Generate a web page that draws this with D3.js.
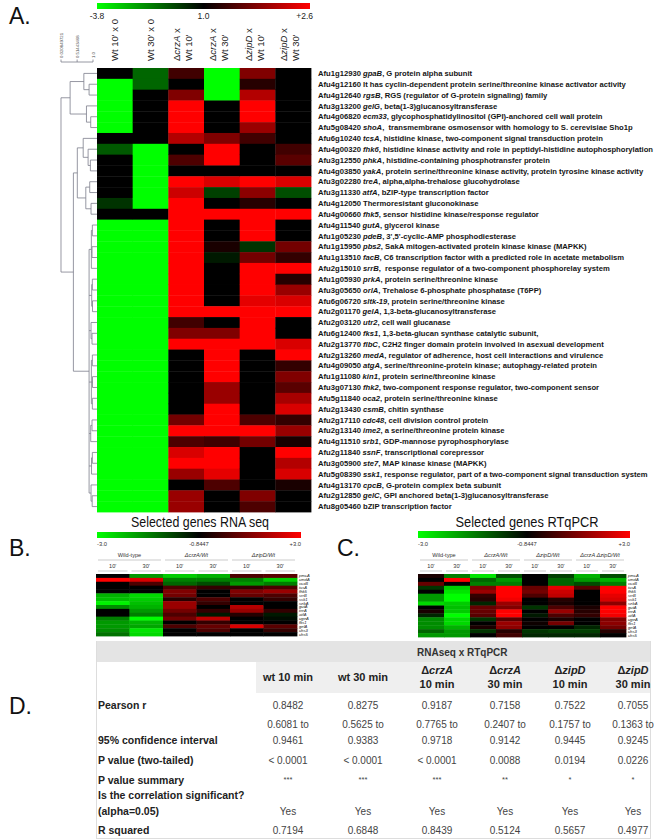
<!DOCTYPE html>
<html>
<head>
<meta charset="utf-8">
<script src="https://cdn.jsdelivr.net/npm/d3@7"></script>
<style>
  body { margin: 0; background: #fff; }
  svg { display: block; font-family: "Liberation Sans", Arial, Helvetica, sans-serif; }
</style>
</head>
<body>
<div id="chart"></div>
<script>
// ---------- panel A data ----------
var geneIds = ["Afu1g12930","Afu4g12160","Afu4g12640","Afu3g13200","Afu4g06820","Afu5g08420","Afu6g10240","Afu4g00320",
  "Afu3g12550","Afu4g03850","Afu3g02280","Afu3g11330","Afu4g12050","Afu4g00660","Afu4g11540","Afu1g05230","Afu1g15950",
  "Afu1g13510","Afu2g15010","Afu1g05930","Afu3g05650","Afu6g06720","Afu2g01170","Afu2g03120","Afu6g12400","Afu2g13770",
  "Afu2g13260","Afu4g09050","Afu1g11080","Afu3g07130","Afu5g11840","Afu2g13430","Afu2g17110","Afu2g13140","Afu4g11510",
  "Afu2g11840","Afu3g05900","Afu5g08390","Afu4g13170","Afu2g12850","Afu8g05460"];
var geneSymbols = ["gpaB","","rgsB","gelG","ecm33","shoA","tcsA","fhk6","phkA","yakA","treA","atfA","","fhk5","gutA","pdeB",
  "pbs2","facB","srrB","prkA","orlA","sltk-19","gelA","utr2","fks1","flbC","medA","atgA","kin1","fhk2","oca2","csmB","cdc48",
  "ime2","srb1","ssnF","ste7","ssk1","cpcB","gelC",""];
var geneDescs = [", G protein alpha subunit",
  "It has cyclin-dependent protein serine/threonine kinase activator activity",
  ", RGS (regulator of G-protein signaling) family",
  ", beta(1-3)glucanosyltransferase",
  ", glycophosphatidylinositol (GPI)-anchored cell wall protein",
  ",  transmembrane osmosensor with homology to S. cerevisiae Sho1p",
  ", histidine kinase, two-component signal transduction protein",
  ", histidine kinase activity and role in peptidyl-histidine autophosphorylation",
  ", histidine-containing phosphotransfer protein",
  ", protein serine/threonine kinase activity, protein tyrosine kinase activity",
  ", alpha,alpha-trehalose glucohydrolase",
  ", bZIP-type transcription factor",
  "Thermoresistant gluconokinase",
  ", sensor histidine kinase/response regulator",
  ", glycerol kinase",
  ", 3',5'-cyclic-AMP phosphodiesterase",
  ", SakA mitogen-activated protein kinase kinase (MAPKK)",
  ", C6 transcription factor with a predicted role in acetate metabolism",
  ",  response regulator of a two-component phosphorelay system",
  ", protein serine/threonine kinase",
  ", Trehalose 6-phosphate phosphatase (T6PP)",
  ", protein serine/threonine kinase",
  ", 1,3-beta-glucanosyltransferase",
  ", cell wall glucanase",
  ", 1,3-beta-glucan synthase catalytic subunit,",
  ", C2H2 finger domain protein involved in asexual development",
  ", regulator of adherence, host cell interactions and virulence",
  ", serine/threonine-protein kinase; autophagy-related protein",
  ", protein serine/threonine kinase",
  ", two-component response regulator, two-component sensor",
  ", protein serine/threonine kinase",
  ", chitin synthase",
  ", cell division control protein",
  ", a serine/threonine protein kinase",
  ", GDP-mannose pyrophosphorylase",
  ", transcriptional corepressor",
  ", MAP kinase kinase (MAPKK)",
  ", response regulator, part of a two-component signal transduction system",
  ", G-protein complex beta subunit",
  ", GPI anchored beta(1-3)glucanosyltransferase",
  "bZIP transcription factor"];

var wt10 = [1.0,-3.8,-3.8,-3.8,-3.8,-3.8,1.0,-0.68,1.0,1.0,1.0,1.0,0.04,1.0,
  -3.8,-3.8,-3.8,-3.8,-3.8,-3.8,-3.8,-3.8,-3.8,-3.8,-3.8,-3.8,-3.8,-3.8,-3.8,-3.8,-3.8,-3.8,-3.8,-3.8,-3.8,-3.8,-3.8,-3.8,-3.8,-3.8,-3.8];
var wt30 = [-0.92,-0.92,1.0,1.0,1.0,1.0,1.0,-3.8,-3.8,-3.8,-3.8,-3.8,-3.8,1.0,
  -3.8,-3.8,-3.8,-3.8,-3.8,-3.8,-3.8,-3.8,-3.8,-3.8,-3.8,-3.8,-3.8,-3.8,-3.8,-3.8,-3.8,-3.8,-3.8,-3.8,-3.8,-3.8,-3.8,-3.8,-3.8,-3.8,-3.8];
var crzA10 = [1.4,1.0,1.8,2.6,2.6,2.6,2.12,1.0,1.48,1.0,2.6,2.28,2.6,2.6,2.6,2.6,2.6,2.6,2.6,2.6,2.6,2.6,2.6,1.4,1.8,2.6,
  1.0,1.0,1.0,1.0,1.0,1.0,1.72,2.6,1.48,2.36,2.6,1.96,1.0,1.96,1.96];
var crzA30 = [-3.8,-3.8,-3.8,1.0,1.0,1.0,1.8,2.6,2.6,1.0,2.36,-0.2,1.0,2.6,1.0,1.0,1.16,0.52,1.0,1.0,1.0,1.0,2.6,1.0,1.8,2.6,
  2.6,2.6,2.6,1.96,1.96,2.6,2.6,2.6,1.4,2.6,2.6,2.44,1.48,1.0,1.0];
var zipD10 = [1.8,1.24,2.12,2.6,2.6,1.96,1.4,1.0,1.0,1.0,2.6,1.88,1.24,2.6,2.6,2.6,0.04,1.72,2.6,2.6,2.6,2.44,2.6,2.6,2.6,2.6,
  1.0,1.0,1.0,1.0,1.0,1.0,1.48,2.6,1.72,1.0,1.0,1.0,1.0,1.8,1.48];
var zipD30 = [1.0,1.0,1.0,1.0,1.0,1.0,1.0,1.4,1.56,1.0,2.36,-0.44,1.0,2.6,1.0,1.0,1.72,1.32,2.6,1.24,1.96,2.36,2.6,1.0,1.0,2.36,
  2.6,1.32,1.8,1.56,2.04,2.36,1.32,1.96,1.16,2.6,2.12,2.36,1.16,1.0,1.0];
var colHeadA = [["Wt 10' x 0"], ["Wt 30' x 0"], ["\u0394crzA x", "Wt 10'"], ["\u0394crzA x", "Wt 30'"], ["\u0394zipD x", "Wt 10'"], ["\u0394zipD x", "Wt 30'"]];
var scaleLabelsA = [-3.8, 1.0, 2.6];
var scaleTextA = ["-3.8", "1.0", "+2.6"];

// dendrogram (similarity of merge, leaves = row index)
var dendroTree = {h: 0.0208, c: [
  {h: 0.30, c: [{h: 0.72, c: [0, {h: 0.88, c: [1, 2]}]}, {h: 0.80, c: [3, {h: 0.93, c: [4, 5]}]}]},
  {h: 0.40, c: [
    {h: 0.52, c: [{h: 0.70, c: [6, {h: 0.85, c: [7, {h: 0.92, c: [8, 9]}]}]}, {h: 0.78, c: [{h: 0.90, c: [10, 11]}, {h: 0.94, c: [12, 13]}]}]},
    {h: 0.88, c: [
      {h: 0.95, c: [{h: 0.98, c: [14, 15]}, {h: 0.97, c: [16, 17]}, 18]},
      {h: 0.96, c: [{h: 0.98, c: [19, 20]}, {h: 0.985, c: [21, 22]}]},
      {h: 0.94, c: [23, {h: 0.97, c: [24, 25]}]},
      {h: 0.95, c: [{h: 0.98, c: [26, 27]}, {h: 0.985, c: [28, 29]}, {h: 0.98, c: [30, 31]}]},
      {h: 0.93, c: [{h: 0.97, c: [32, 33]}, 34]},
      {h: 0.955, c: [{h: 0.98, c: [35, 36]}, 37]},
      {h: 0.94, c: [38, {h: 0.975, c: [39, 40]}]}
    ]}
  ]}
]};
var dendroTicks = [0.020849721, 0.51443468, 1.0];
var dendroTickText = ["0.020849721", "0.51443468", "1.0"];

// ---------- panel B / C data ----------
var selGenes = ["pmcA","cmdA","vcxB","tcsA","fhk5","srrB","ssk1","sebA","gutA","treA","atfA","ugeA","fks1","gelA","chs3","chs5"];
var timeLabels = ["10'", "30'"];
var rnaGroups = ["Wild-type", "\u0394crzA/Wt", "\u0394zipD/Wt"];
var qpcrGroups = ["Wild-type", "\u0394crzA/Wt", "\u0394zipD/Wt", "\u0394crzA \u0394zipD/Wt"];
var scaleLabelsBC = [-3.0, -0.8447, 3.0];
var scaleTextBC = ["-3.0", "-0.8447", "+3.0"];

var rnaWt10 = [-0.84,3.0,-0.84,-0.84,-0.84,-2.35,-2.46,-2.89,-2.03,-0.84,-0.84,-1.92,-2.14,-2.14,-2.03,-1.81];
var rnaWt30 = [-2.14,2.42,0.31,-0.84,-0.84,-2.68,-2.57,-2.46,-2.35,-2.14,-1.92,-3.0,-2.35,-2.25,-2.78,-2.68];
var rnaCrz10 = [-2.57,-1.92,-1.71,0.31,1.08,0.89,-0.27,1.46,1.46,0.89,0.31,0.89,-0.84,0.31,-0.84,-0.84];
var rnaCrz30 = [-2.35,-1.92,-1.49,-0.08,-0.84,-0.84,0.31,-0.08,-0.84,-0.08,-1.06,2.04,-0.08,0.69,0.31,-0.84];
var rnaZip10 = [0.31,-1.92,-2.14,-0.08,1.08,0.69,-0.84,-0.84,1.85,1.46,-0.27,-0.84,-0.84,2.42,-0.84,-0.84];
var rnaZip30 = [0.50,-2.57,-1.92,0.31,1.46,0.31,-0.08,-0.84,-0.84,-0.08,-1.06,-0.95,-0.84,0.50,-0.08,-0.84];

var pcrWt10 = [-0.46,-0.84,0.69,-1.28,-0.84,-2.14,-2.14,-2.68,-0.84,-0.46,-1.17,-2.03,-2.03,-2.03,-1.71,-2.14];
var pcrWt30 = [-1.92,3.0,-0.84,-2.57,-2.78,-3.0,-3.0,-2.57,-2.46,-2.57,-3.0,-2.68,-2.68,-2.35,-2.14,-2.14];
var pcrCrz10 = [-2.78,-1.71,-1.92,1.08,1.46,-0.08,-0.27,-1.17,0.69,0.69,0.50,-1.28,-0.84,-0.46,-1.28,-0.84];
var pcrCrz30 = [-1.49,-2.14,-1.92,3.0,3.0,3.0,2.81,1.46,1.08,3.0,3.0,0.50,1.46,1.27,-0.27,0.12];
var pcrZip10 = [-0.84,-0.84,-0.84,0.69,0.89,0.31,-0.84,-0.84,-1.28,-0.84,-1.06,-0.84,-0.65,-0.84,-1.28,-1.17];
var pcrZip30 = [-1.38,-1.71,-1.71,2.62,2.23,2.04,-0.27,-0.46,0.31,1.46,0.31,-0.46,0.89,-0.84,-1.38,-1.17];
var pcrBoth10 = [-2.35,-2.14,-1.49,0.50,-0.84,-0.84,-0.84,-0.84,-0.46,-0.27,-0.08,-0.84,-0.84,-1.17,-1.38,-1.17];
var pcrBoth30 = [-1.49,-2.35,-1.92,3.0,3.0,2.62,2.42,1.27,3.0,3.0,2.81,1.08,1.27,0.89,-0.27,-0.84];

// ---------- panel D data ----------
var tableTitle = "RNAseq x RTqPCR";
var headGene = ["", "", "\u0394crzA", "\u0394crzA", "\u0394zipD", "\u0394zipD"];
var headTime = ["wt 10 min", "wt 30 min", "10 min", "30 min", "10 min", "30 min"];
var pearsonR = ["0.8482", "0.8275", "0.9187", "0.7158", "0.7522", "0.7055"];
var ciLow = ["0.6081 to", "0.5625 to", "0.7765 to", "0.2407 to", "0.1757 to", "0.1363 to"];
var ciHigh = ["0.9461", "0.9383", "0.9718", "0.9142", "0.9445", "0.9245"];
var pTwoTailed = ["< 0.0001", "< 0.0001", "< 0.0001", "0.0088", "0.0194", "0.0226"];
var pSummary = ["***", "***", "***", "**", "*", "*"];
var significant = ["Yes", "Yes", "Yes", "Yes", "Yes", "Yes"];
var rSquared = ["0.7194", "0.6848", "0.8439", "0.5124", "0.5657", "0.4977"];

// ---------- drawing ----------
var svg = d3.select("#chart").append("svg").attr("width", 655).attr("height", 840);
svg.append("rect").attr("width", 655).attr("height", 840).attr("fill", "#fff");
var defs = svg.append("defs");

var GREEN = "#00ff00", BLACK = "#000000", RED = "#ff0000";

function addGradient(id, color, pos) {
  var lg = defs.append("linearGradient").attr("id", id);
  var ext = d3.extent(pos.range());
  color.domain().forEach(function(v) {
    lg.append("stop").attr("offset", (pos(v) - ext[0]) / (ext[1] - ext[0])).attr("stop-color", color(v));
  });
}

function drawCells(g, cols, x, y, color) {
  cols.forEach(function(col, ci) {
    g.append("g").selectAll("rect").data(col).join("rect")
      .attr("x", x(ci)).attr("y", function(d, i) { return y(i); })
      .attr("width", x.bandwidth() + 0.4).attr("height", y.bandwidth() + 0.4)
      .attr("fill", function(d) { return color(d); });
  });
}

function panelLetter(t, x, y) {
  svg.append("text").attr("x", x).attr("y", y).attr("font-size", 23).attr("fill", "#111").text(t);
}

// ===== Panel A =====
panelLetter("A.", 9, 24);
var colorA = d3.scaleLinear().domain([-3.8, 1.0, 2.6]).range([GREEN, BLACK, RED]).clamp(true);
var barA = d3.scaleLinear().domain([-3.8, 1.0, 2.6]).range([97, 203.5, 310]);
addGradient("gradA", colorA, barA);
svg.append("rect").attr("x", 97).attr("y", 3).attr("width", 213).attr("height", 6).attr("fill", "url(#gradA)");
svg.append("g").selectAll("text").data(scaleLabelsA).join("text")
  .attr("x", function(d) { return barA(d); }).attr("y", 19)
  .attr("text-anchor", function(d, i) { return i === 2 ? "end" : "middle"; })
  .attr("dx", function(d, i) { return i === 2 ? 3 : 0; })
  .attr("font-size", 8.5).attr("fill", "#222")
  .text(function(d, i) { return scaleTextA[i]; });

var aX = d3.scaleBand().domain(d3.range(6)).range([97, 311]);
var aY = d3.scaleBand().domain(d3.range(geneIds.length)).range([68, 512]);
drawCells(svg.append("g"), [wt10, wt30, crzA10, crzA30, zipD10, zipD30], aX, aY, colorA);

// rotated column headers
colHeadA.forEach(function(lines, ci) {
  var cx = aX(ci) + aX.bandwidth() / 2;
  lines.forEach(function(line, li) {
    var off = lines.length === 1 ? 3 : (li === 0 ? -6 : 6);
    var t = svg.append("text").attr("transform", "translate(" + (cx + off) + ",61) rotate(-90)")
      .attr("font-size", 9.5).attr("fill", "#222");
    if (line.charAt(0) === "\u0394") {
      var parts = line.split(" ");
      t.append("tspan").text("\u0394");
      t.append("tspan").attr("font-style", "italic").text(parts[0].slice(1));
      t.append("tspan").text(" " + parts[1]);
    } else {
      t.text(line);
    }
  });
});

// gene labels
var labA = svg.append("g").attr("font-size", 7.65).attr("font-weight", "bold").attr("fill", "#151515");
geneIds.forEach(function(id, i) {
  var t = labA.append("text").attr("x", 318).attr("y", aY(i) + aY.bandwidth() / 2).attr("dy", "0.35em")
    .attr("xml:space", "preserve");
  t.append("tspan").text(id + " ");
  if (geneSymbols[i]) t.append("tspan").attr("font-style", "italic").text(geneSymbols[i]);
  t.append("tspan").text(geneDescs[i]);
});

// dendrogram
var dX = d3.scaleLinear().domain([0.020849721, 1.0]).range([61, 93]);
var root = d3.hierarchy(dendroTree, function(d) {
  return d.c ? d.c.map(function(k) { return typeof k === "number" ? {leaf: k} : k; }) : null;
});
root.eachAfter(function(n) {
  if (n.data.leaf !== undefined) {
    n.px = aX.range()[0];
    n.py = aY(n.data.leaf) + aY.bandwidth() / 2;
  } else {
    n.px = dX(n.data.h);
    n.py = (n.children[0].py + n.children[n.children.length - 1].py) / 2;
  }
});
var dg = svg.append("g").attr("stroke", "#7c7d8c").attr("stroke-width", 0.8).attr("fill", "none");
root.each(function(n) {
  if (!n.children) return;
  var first = n.children[0], last = n.children[n.children.length - 1];
  dg.append("line").attr("x1", n.px).attr("x2", n.px).attr("y1", first.py).attr("y2", last.py);
  n.children.forEach(function(c) {
    dg.append("line").attr("x1", n.px).attr("x2", c.px).attr("y1", c.py).attr("y2", c.py);
  });
});
dg.append("line").attr("x1", dX(dendroTicks[0])).attr("x2", dX(1.0)).attr("y1", 62).attr("y2", 62);
dg.selectAll("line.tk").data(dendroTicks).join("line").attr("class", "tk")
  .attr("x1", function(d) { return dX(d); }).attr("x2", function(d) { return dX(d); })
  .attr("y1", 59.5).attr("y2", 62);
svg.append("g").selectAll("text").data(dendroTicks).join("text")
  .attr("transform", function(d) { return "translate(" + (dX(d) + 1.6) + ",58) rotate(-90)"; })
  .attr("font-size", 4.3).attr("fill", "#444")
  .text(function(d, i) { return dendroTickText[i]; });

// ===== Panel B & C helpers =====
var colorBC = d3.scaleLinear().domain([-3.0, -0.8447, 3.0]).range([GREEN, BLACK, RED]).clamp(true);

function smallPanel(o) {
  var g = svg.append("g");
  g.append("text").attr("x", o.titleX).attr("y", o.titleY).attr("text-anchor", "middle")
    .attr("font-size", 15).attr("fill", "#111")
    .attr("textLength", o.titleW).attr("lengthAdjust", "spacingAndGlyphs").text(o.title);
  var bar = d3.scaleLinear().domain(scaleLabelsBC).range(o.barRange);
  addGradient(o.id, colorBC, bar);
  g.append("rect").attr("x", o.barRange[0]).attr("y", o.barY)
    .attr("width", o.barRange[2] - o.barRange[0]).attr("height", o.barH).attr("fill", "url(#" + o.id + ")");
  g.append("g").selectAll("text").data(scaleLabelsBC).join("text")
    .attr("x", function(d) { return bar(d); }).attr("y", o.barY + o.barH + 7.5)
    .attr("text-anchor", function(d, i) { return ["start", "middle", "end"][i]; })
    .attr("font-size", 5.8).attr("fill", "#333")
    .text(function(d, i) { return scaleTextBC[i]; });

  var x = d3.scaleBand().domain(d3.range(o.cols.length)).range(o.xRange);
  var y = d3.scaleBand().domain(d3.range(selGenes.length)).range(o.yRange);
  var grpX = d3.scaleBand().domain(o.groups).range(o.xRange);

  // group headers
  g.append("g").selectAll("text").data(o.groups).join("text")
    .attr("x", function(d) { return grpX(d) + grpX.bandwidth() / 2; }).attr("y", o.groupY)
    .attr("text-anchor", "middle").attr("font-size", 5.6).attr("fill", "#333")
    .attr("font-style", function(d) { return d.charAt(0) === "\u0394" ? "italic" : "normal"; })
    .text(function(d) { return d; });
  g.append("g").selectAll("line").data(o.groups).join("line")
    .attr("x1", function(d) { return grpX(d) + 2; }).attr("x2", function(d) { return grpX(d) + grpX.bandwidth() - 2; })
    .attr("y1", o.groupY + 3).attr("y2", o.groupY + 3).attr("stroke", "#aaa").attr("stroke-width", 0.6);

  // time headers
  g.append("g").selectAll("text").data(o.cols).join("text")
    .attr("x", function(d, i) { return x(i) + x.bandwidth() / 2; }).attr("y", o.timeY)
    .attr("text-anchor", "middle").attr("font-size", 5.6).attr("fill", "#333")
    .text(function(d, i) { return timeLabels[i % 2]; });
  g.append("g").selectAll("line").data(o.cols).join("line")
    .attr("x1", function(d, i) { return x(i) + 2; }).attr("x2", function(d, i) { return x(i) + x.bandwidth() - 2; })
    .attr("y1", o.timeY + 3).attr("y2", o.timeY + 3).attr("stroke", "#aaa").attr("stroke-width", 0.6);

  drawCells(g, o.cols, x, y, colorBC);

  g.append("g").selectAll("text").data(selGenes).join("text")
    .attr("x", o.xRange[1] + 2).attr("y", function(d, i) { return y(i) + y.bandwidth() / 2; })
    .attr("dy", "0.35em").attr("font-size", 4.2).attr("font-style", "italic").attr("fill", "#222")
    .text(function(d) { return d; });
}

// ===== Panel B =====
panelLetter("B.", 9, 556);
smallPanel({
  id: "gradB", title: "Selected genes RNA seq", titleX: 200, titleY: 527, titleW: 138,
  barRange: [97, 199, 301], barY: 532, barH: 6,
  groups: rnaGroups, groupY: 557, timeY: 568,
  cols: [rnaWt10, rnaWt30, rnaCrz10, rnaCrz30, rnaZip10, rnaZip30],
  xRange: [96, 297], yRange: [574, 636]
});

// ===== Panel C =====
panelLetter("C.", 337, 556);
smallPanel({
  id: "gradC", title: "Selected genes RTqPCR", titleX: 527, titleY: 527, titleW: 143,
  barRange: [418, 527, 630], barY: 531, barH: 7,
  groups: qpcrGroups, groupY: 557, timeY: 568,
  cols: [pcrWt10, pcrWt30, pcrCrz10, pcrCrz30, pcrZip10, pcrZip30, pcrBoth10, pcrBoth30],
  xRange: [418, 626], yRange: [574, 637]
});

// ===== Panel D: table =====
panelLetter("D.", 9, 714);
var tX = d3.scaleOrdinal().domain(d3.range(6)).range([288, 363, 437, 505, 570, 633]);
var tg = svg.append("g");
tg.append("rect").attr("x", 97).attr("y", 641).attr("width", 553).attr("height", 21).attr("fill", "#e4e4e4");
tg.append("rect").attr("x", 256).attr("y", 662).attr("width", 394).attr("height", 31).attr("fill", "#efefef");
tg.append("line").attr("x1", 96.5).attr("x2", 96.5).attr("y1", 641).attr("y2", 839).attr("stroke", "#ddd");
tg.append("line").attr("x1", 650.5).attr("x2", 650.5).attr("y1", 641).attr("y2", 839).attr("stroke", "#ddd");
tg.append("line").attr("x1", 96.5).attr("x2", 650.5).attr("y1", 838.5).attr("y2", 838.5).attr("stroke", "#ddd");
tg.append("text").attr("x", 417).attr("y", 656).attr("font-size", 10).attr("font-weight", "bold")
  .attr("fill", "#333").text(tableTitle);

headTime.forEach(function(t, i) {
  var hx = tX(i);
  if (headGene[i]) {
    var g1 = tg.append("text").attr("x", hx).attr("y", 674).attr("text-anchor", "middle")
      .attr("font-size", 11).attr("font-weight", "bold").attr("fill", "#222");
    g1.append("tspan").text("\u0394");
    g1.append("tspan").attr("font-style", "italic").text(headGene[i].slice(1));
    tg.append("text").attr("x", hx).attr("y", 688).attr("text-anchor", "middle")
      .attr("font-size", 11).attr("font-weight", "bold").attr("fill", "#222").text(t);
  } else {
    tg.append("text").attr("x", hx).attr("y", 681).attr("text-anchor", "middle")
      .attr("font-size", 11).attr("font-weight", "bold").attr("fill", "#222").text(t);
  }
});

var tableRows = [
  {label: "Pearson r", y: 709, vals: pearsonR},
  {label: "", y: 728, vals: ciLow},
  {label: "95% confidence interval", y: 744, vals: ciHigh},
  {label: "P value (two-tailed)", y: 764, vals: pTwoTailed},
  {label: "P value summary", y: 784, vals: pSummary, small: true},
  {label: "Is the correlation significant?", y: 799, vals: null},
  {label: "(alpha=0.05)", y: 815, vals: significant},
  {label: "R squared", y: 834, vals: rSquared}
];
tableRows.forEach(function(r) {
  if (r.label) {
    tg.append("text").attr("x", 98).attr("y", r.y).attr("font-size", 10.5).attr("font-weight", "bold")
      .attr("fill", "#222").text(r.label);
  }
  if (r.vals) {
    tg.append("g").selectAll("text").data(r.vals).join("text")
      .attr("x", function(d, i) { return tX(i); }).attr("y", r.small ? r.y - 2 : r.y)
      .attr("text-anchor", "middle").attr("font-size", r.small ? 7.5 : 10).attr("fill", "#444")
      .text(function(d) { return d; });
  }
});
</script>
</body>
</html>
